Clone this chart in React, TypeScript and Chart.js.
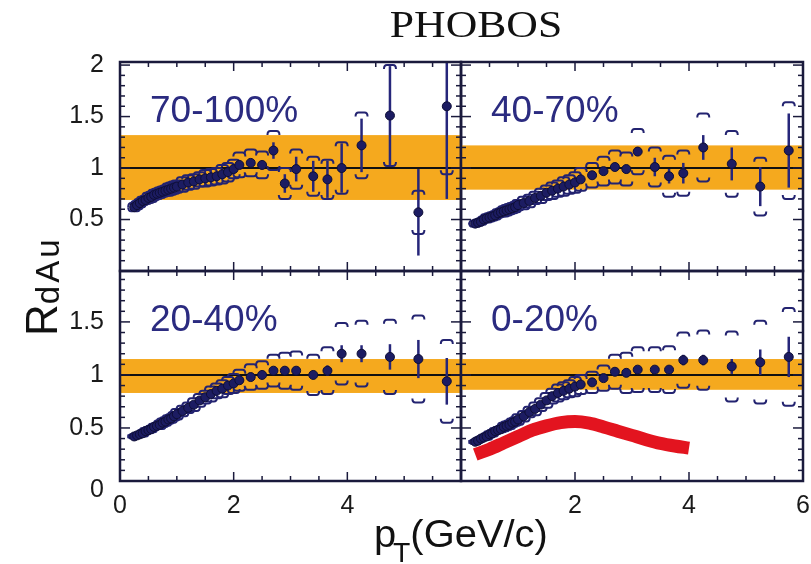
import React, { useEffect, useRef } from "react";
import { Chart, registerables } from "chart.js";

Chart.register(...registerables);

// ---------------- data ----------------
const PT = [0.25, 0.3, 0.35, 0.4, 0.45, 0.5, 0.55, 0.6, 0.65, 0.7, 0.75, 0.8, 0.85, 0.9, 0.95, 1.0,
  1.1, 1.2, 1.3, 1.4, 1.5, 1.6, 1.7, 1.8, 1.9, 2.0,
  2.1, 2.3, 2.5, 2.7, 2.9, 3.1, 3.4, 3.65, 3.9, 4.25, 4.75, 5.25, 5.75];

const VAL_70_100 = [0.62, 0.64, 0.66, 0.68, 0.69, 0.71, 0.72, 0.74, 0.75, 0.76, 0.77, 0.78, 0.79, 0.80, 0.81, 0.82,
  0.84, 0.86, 0.87, 0.89, 0.90, 0.91, 0.92, 0.94, 0.96, 0.99,
  1.03, 1.05, 1.03, 1.17, 0.85, 0.99, 0.92, 0.89, 1.00, 1.22, 1.51, 0.57, 1.60];
const STAT_70_100 = [0.01, 0.01, 0.01, 0.01, 0.01, 0.01, 0.01, 0.01, 0.01, 0.01, 0.01, 0.01, 0.01, 0.01, 0.01, 0.01,
  0.02, 0.02, 0.02, 0.02, 0.02, 0.02, 0.02, 0.02, 0.02, 0.02,
  0.03, 0.03, 0.04, 0.08, 0.09, 0.12, 0.15, 0.18, 0.24, 0.26, 0.48, 0.42, 0.90];
const SYS_70_100 = [0.04, 0.04, 0.04, 0.04, 0.04, 0.05, 0.05, 0.05, 0.05, 0.05, 0.05, 0.05, 0.06, 0.06, 0.06, 0.06,
  0.07, 0.07, 0.07, 0.07, 0.08, 0.08, 0.08, 0.09, 0.09, 0.09,
  0.12, 0.13, 0.13, 0.19, 0.15, 0.19, 0.19, 0.19, 0.25, 0.32, 0.49, 0.21, 0.66];

const VAL_40_70 = [0.46, 0.47, 0.48, 0.50, 0.51, 0.52, 0.53, 0.54, 0.56, 0.57, 0.58, 0.59, 0.60, 0.61, 0.62, 0.64,
  0.66, 0.68, 0.71, 0.73, 0.76, 0.78, 0.80, 0.82, 0.84, 0.86,
  0.89, 0.93, 0.97, 1.01, 0.99, 1.16, 1.01, 0.92, 0.95, 1.20, 1.04, 0.82, 1.17];
const STAT_40_70 = [0.01, 0.01, 0.01, 0.01, 0.01, 0.01, 0.01, 0.01, 0.01, 0.01, 0.01, 0.01, 0.01, 0.01, 0.01, 0.01,
  0.01, 0.01, 0.01, 0.01, 0.01, 0.01, 0.01, 0.01, 0.01, 0.01,
  0.02, 0.02, 0.03, 0.03, 0.04, 0.04, 0.09, 0.07, 0.10, 0.12, 0.16, 0.19, 0.36];
const SYS_40_70 = [0.03, 0.03, 0.03, 0.03, 0.04, 0.04, 0.04, 0.04, 0.04, 0.04, 0.05, 0.05, 0.05, 0.05, 0.05, 0.05,
  0.06, 0.06, 0.06, 0.07, 0.07, 0.08, 0.08, 0.09, 0.09, 0.10,
  0.11, 0.12, 0.14, 0.16, 0.16, 0.22, 0.19, 0.20, 0.22, 0.33, 0.32, 0.28, 0.47];

const VAL_20_40 = [0.42, 0.43, 0.44, 0.45, 0.47, 0.48, 0.49, 0.51, 0.52, 0.53, 0.55, 0.56, 0.58, 0.59, 0.61, 0.63,
  0.66, 0.69, 0.72, 0.76, 0.79, 0.82, 0.85, 0.87, 0.90, 0.92,
  0.95, 0.98, 1.00, 1.04, 1.04, 1.04, 1.00, 1.04, 1.20, 1.20, 1.17, 1.15, 0.94];
const STAT_20_40 = [0.01, 0.01, 0.01, 0.01, 0.01, 0.01, 0.01, 0.01, 0.01, 0.01, 0.01, 0.01, 0.01, 0.01, 0.01, 0.01,
  0.01, 0.01, 0.01, 0.01, 0.01, 0.01, 0.01, 0.01, 0.01, 0.01,
  0.02, 0.02, 0.02, 0.02, 0.03, 0.03, 0.03, 0.05, 0.08, 0.08, 0.12, 0.18, 0.22];
const SYS_20_40 = [0.02, 0.02, 0.02, 0.03, 0.03, 0.03, 0.03, 0.03, 0.03, 0.04, 0.04, 0.04, 0.04, 0.04, 0.04, 0.05,
  0.05, 0.05, 0.06, 0.06, 0.06, 0.07, 0.07, 0.08, 0.08, 0.09,
  0.10, 0.12, 0.13, 0.15, 0.17, 0.18, 0.19, 0.22, 0.29, 0.31, 0.35, 0.41, 0.39];

const VAL_0_20 = [0.37, 0.38, 0.40, 0.41, 0.42, 0.44, 0.45, 0.47, 0.48, 0.49, 0.51, 0.52, 0.53, 0.55, 0.56, 0.58,
  0.61, 0.65, 0.68, 0.72, 0.76, 0.80, 0.83, 0.85, 0.87, 0.89,
  0.91, 0.93, 0.97, 1.03, 1.02, 1.05, 1.05, 1.05, 1.14, 1.14, 1.08, 1.12, 1.17];
const STAT_0_20 = [0.01, 0.01, 0.01, 0.01, 0.01, 0.01, 0.01, 0.01, 0.01, 0.01, 0.01, 0.01, 0.01, 0.01, 0.01, 0.01,
  0.01, 0.01, 0.01, 0.01, 0.01, 0.01, 0.01, 0.01, 0.01, 0.01,
  0.02, 0.02, 0.02, 0.02, 0.02, 0.02, 0.02, 0.03, 0.05, 0.05, 0.07, 0.12, 0.19];
const SYS_0_20 = [0.02, 0.02, 0.02, 0.02, 0.03, 0.03, 0.03, 0.03, 0.03, 0.03, 0.04, 0.04, 0.04, 0.04, 0.04, 0.05,
  0.05, 0.05, 0.06, 0.06, 0.07, 0.07, 0.08, 0.08, 0.08, 0.09,
  0.09, 0.10, 0.12, 0.16, 0.19, 0.21, 0.21, 0.22, 0.26, 0.28, 0.33, 0.39, 0.46];

// red curve (0-20% panel)
const RED_PT = [0.25, 0.5, 0.75, 1.0, 1.25, 1.5, 1.75, 2.0, 2.25, 2.5, 2.75, 3.0, 3.25, 3.5, 3.75, 4.0];
const RED_VAL = [0.25, 0.30, 0.36, 0.42, 0.48, 0.52, 0.55, 0.56, 0.545, 0.51, 0.47, 0.43, 0.39, 0.355, 0.33, 0.31];

// normalization bands (lower, upper)
const BAND_70_100 = [0.69, 1.32];
const BAND_40_70 = [0.79, 1.22];
const BAND_20_40 = [0.83, 1.15];
const BAND_0_20 = [0.86, 1.15];

const PANEL_LABELS = ["70-100%", "40-70%", "20-40%", "0-20%"];
const TOP_Y_TICKS = [0.5, 1, 1.5, 2];
const BOTTOM_Y_TICKS = [0, 0.5, 1, 1.5];
const LEFT_X_TICKS = [0, 2, 4];
const RIGHT_X_TICKS = [2, 4, 6];

// ---------------- layout / style ----------------
const W = 811;
const H = 564;
const COL_X = [120, 461, 803];
const ROW_Y = [62, 271, 481];
const Y_MAX = [2.03, 1.98];
const Y_AXIS_W = 60;
const X_AXIS_H = 45;

const NAVY = "#1c1c62";
const STAT_COLOR = "#26267a";
const BRACKET_COLOR = "#232370";
const ORANGE = "#f5a91e";
const RED = "#e3141f";
const FRAME = "#1a1a3c";
const LABEL_COLOR = "#2b2b80";
const SANS = '"Liberation Sans", Arial, Helvetica, sans-serif';

type Panel = {
  key: string;
  row: number;
  col: number;
  label: string;
  val: number[];
  stat: number[];
  sys: number[];
  band: number[];
  red: boolean;
};

const PANELS: Panel[] = [
  { key: "p70", row: 0, col: 0, label: PANEL_LABELS[0], val: VAL_70_100, stat: STAT_70_100, sys: SYS_70_100, band: BAND_70_100, red: false },
  { key: "p40", row: 0, col: 1, label: PANEL_LABELS[1], val: VAL_40_70, stat: STAT_40_70, sys: SYS_40_70, band: BAND_40_70, red: false },
  { key: "p20", row: 1, col: 0, label: PANEL_LABELS[2], val: VAL_20_40, stat: STAT_20_40, sys: SYS_20_40, band: BAND_20_40, red: false },
  { key: "p0", row: 1, col: 1, label: PANEL_LABELS[3], val: VAL_0_20, stat: STAT_0_20, sys: SYS_0_20, band: BAND_0_20, red: true },
];

function seg(ctx: CanvasRenderingContext2D, x1: number, y1: number, x2: number, y2: number) {
  ctx.beginPath();
  ctx.moveTo(x1, y1);
  ctx.lineTo(x2, y2);
  ctx.stroke();
}

function bracket(ctx: CanvasRenderingContext2D, x: number, y: number, dir: number) {
  const w = 6;
  const d = 4 * dir;
  ctx.beginPath();
  ctx.moveTo(x - w, y + d);
  ctx.quadraticCurveTo(x - w, y, x - w + 3, y);
  ctx.lineTo(x + w - 3, y);
  ctx.quadraticCurveTo(x + w, y, x + w, y + d);
  ctx.stroke();
}

function zeroPadding(s: any) {
  s.paddingLeft = 0;
  s.paddingRight = 0;
  s.paddingTop = 0;
  s.paddingBottom = 0;
}

function panelPlugin(p: Panel) {
  return {
    id: "panel_" + p.key,
    beforeDatasetsDraw(chart: any) {
      const { ctx, chartArea: a } = chart;
      const xs = chart.scales.x;
      const ys = chart.scales.y;
      ctx.save();
      ctx.beginPath();
      ctx.rect(a.left, a.top, a.right - a.left, a.bottom - a.top);
      ctx.clip();
      const yb1 = ys.getPixelForValue(p.band[1]);
      const yb0 = ys.getPixelForValue(p.band[0]);
      ctx.fillStyle = ORANGE;
      ctx.fillRect(a.left, yb1, a.right - a.left, yb0 - yb1);
      const y1 = ys.getPixelForValue(1);
      ctx.strokeStyle = "#111111";
      ctx.lineWidth = 2;
      seg(ctx, a.left, y1, a.right, y1);
      PT.forEach((pt, i) => {
        const px = xs.getPixelForValue(pt);
        const v = p.val[i];
        ctx.strokeStyle = BRACKET_COLOR;
        ctx.lineWidth = 2;
        bracket(ctx, px, ys.getPixelForValue(v + p.sys[i]), 1);
        bracket(ctx, px, ys.getPixelForValue(v - p.sys[i]), -1);
        ctx.strokeStyle = STAT_COLOR;
        ctx.lineWidth = 2.5;
        seg(ctx, px, ys.getPixelForValue(v + p.stat[i]), px, ys.getPixelForValue(v - p.stat[i]));
      });
      ctx.restore();
    },
    afterDatasetsDraw(chart: any) {
      const { ctx, chartArea: a } = chart;
      const xs = chart.scales.x;
      const ys = chart.scales.y;
      ctx.save();
      ctx.strokeStyle = FRAME;
      ctx.lineWidth = 1.5;
      const ymax = Y_MAX[p.row];
      for (let k = 0; k * 0.1 <= ymax + 1e-9; k++) {
        const py = ys.getPixelForValue(k * 0.1);
        const len = k % 5 === 0 ? 10 : 5;
        seg(ctx, a.left, py, a.left + len, py);
        seg(ctx, a.right, py, a.right - len, py);
      }
      for (let k = 0; k <= 12; k++) {
        const px = xs.getPixelForValue(k * 0.5);
        const len = k % 4 === 0 ? 9 : 5;
        seg(ctx, px, a.top, px, a.top + len);
        seg(ctx, px, a.bottom, px, a.bottom - len);
      }
      ctx.lineWidth = 2.5;
      ctx.strokeRect(a.left, a.top, a.right - a.left, a.bottom - a.top);
      ctx.fillStyle = LABEL_COLOR;
      ctx.font = "37px " + SANS;
      ctx.textBaseline = "alphabetic";
      ctx.textAlign = "left";
      ctx.fillText(p.label, a.left + 30, a.top + 60);
      ctx.restore();
    },
  };
}

function makeConfig(p: Panel): any {
  const showY = p.col === 0;
  const showX = p.row === 1;
  const yTicks = p.row === 0 ? TOP_Y_TICKS : BOTTOM_Y_TICKS;
  const xTicks = p.col === 0 ? LEFT_X_TICKS : RIGHT_X_TICKS;
  const datasets: any[] = [
    {
      type: "scatter",
      data: PT.map((x, i) => ({ x, y: p.val[i] })),
      pointRadius: 4.5,
      pointBackgroundColor: NAVY,
      pointBorderColor: "#0e0e36",
      pointBorderWidth: 1,
      showLine: false,
    },
  ];
  if (p.red) {
    datasets.push({
      type: "line",
      data: RED_PT.map((x, i) => ({ x, y: RED_VAL[i] })),
      borderColor: RED,
      borderWidth: 13,
      pointRadius: 0,
      cubicInterpolationMode: "monotone",
      fill: false,
      borderCapStyle: "butt",
    });
  }
  const tickFont = { family: SANS, size: 25 };
  return {
    type: "scatter",
    data: { datasets },
    options: {
      animation: false,
      responsive: false,
      maintainAspectRatio: false,
      events: [],
      layout: {
        padding: {
          left: showY ? COL_X[0] - Y_AXIS_W : COL_X[p.col],
          right: W - COL_X[p.col + 1],
          top: ROW_Y[p.row],
          bottom: showX ? H - ROW_Y[2] - X_AXIS_H : H - ROW_Y[p.row + 1],
        },
      },
      plugins: {
        legend: { display: false },
        tooltip: { enabled: false },
        title: { display: false },
      },
      scales: {
        x: {
          type: "linear",
          min: 0,
          max: 6,
          display: showX,
          grid: { display: false, drawTicks: false },
          border: { display: false },
          afterBuildTicks: (s: any) => {
            s.ticks = xTicks.map((v) => ({ value: v }));
          },
          afterFit: (s: any) => {
            s.height = showX ? X_AXIS_H : 0;
            zeroPadding(s);
          },
          ticks: {
            font: tickFont,
            color: "#1a1a1a",
            padding: 10,
            autoSkip: false,
            maxRotation: 0,
            callback: (v: any) => String(v),
          },
        },
        y: {
          type: "linear",
          min: 0,
          max: Y_MAX[p.row],
          display: showY,
          grid: { display: false, drawTicks: false },
          border: { display: false },
          afterBuildTicks: (s: any) => {
            s.ticks = yTicks.map((v) => ({ value: v }));
          },
          afterFit: (s: any) => {
            s.width = showY ? Y_AXIS_W : 0;
            zeroPadding(s);
          },
          ticks: {
            font: { family: SANS, size: 25, lineHeight: 0.7 },
            color: "#1a1a1a",
            padding: 16,
            autoSkip: false,
            callback: (v: any) => (v === 0 ? ["", "0"] : String(v)),
          },
        },
      },
    },
    plugins: [panelPlugin(p)],
  };
}

function PanelCanvas({ panel }: { panel: Panel }) {
  const ref = useRef<HTMLCanvasElement | null>(null);
  useEffect(() => {
    if (!ref.current) return;
    const chart = new Chart(ref.current, makeConfig(panel));
    return () => chart.destroy();
  }, [panel]);
  return (
    <canvas
      ref={ref}
      width={W}
      height={H}
      style={{ position: "absolute", left: 0, top: 0, width: W, height: H }}
    />
  );
}

export default function App() {
  return (
    <div
      style={{
        position: "absolute",
        left: 0,
        top: 0,
        width: W,
        height: H,
        background: "#ffffff",
        overflow: "hidden",
      }}
    >
      {PANELS.map((p) => (
        <PanelCanvas key={p.key} panel={p} />
      ))}
      <div
        style={{
          position: "absolute",
          left: 476,
          top: 5,
          transform: "translateX(-50%) scaleX(1.15)",
          fontFamily: '"Liberation Serif", "Times New Roman", serif',
          fontSize: 38,
          lineHeight: "38px",
          color: "#111",
          whiteSpace: "nowrap",
        }}
      >
        PHOBOS
      </div>
      <div
        style={{
          position: "absolute",
          left: 374,
          top: 515,
          fontFamily: SANS,
          fontSize: 38,
          lineHeight: "38px",
          color: "#111",
          whiteSpace: "nowrap",
          transformOrigin: "0 0",
          transform: "scaleX(1.05)",
        }}
      >
        p
        <span style={{ fontSize: 27, position: "relative", top: 15, marginLeft: -3 }}>T</span>
        (GeV/c)
      </div>
      <div
        style={{
          position: "absolute",
          left: 20,
          top: 336,
          transformOrigin: "0 0",
          transform: "rotate(-90deg)",
          fontFamily: SANS,
          fontSize: 44,
          lineHeight: "44px",
          color: "#111",
          whiteSpace: "nowrap",
        }}
      >
        R
        <span style={{ fontSize: 33, position: "relative", top: 2, letterSpacing: 3 }}>dAu</span>
      </div>
    </div>
  );
}
